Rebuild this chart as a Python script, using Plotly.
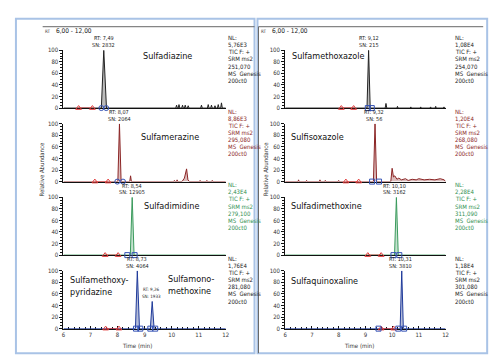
import plotly.graph_objects as go

W, H = 498, 356

# ---------------- data ----------------
compounds = ["Sulfadiazine", "Sulfamerazine", "Sulfadimidine", "Sulfamethoxy-<br>pyridazine",
             "Sulfamethoxazole", "Sulfisoxazole", "Sulfadimethoxine", "Sulfaquinoxaline"]
second_compound = "Sulfamono-<br>methoxine"

nl_values = ["5,76E3", "8,86E3", "2,43E4", "1,76E4", "1,08E4", "1,20E4", "2,28E4", "1,18E4"]
srm_mass = ["251,070", "295,080", "279,100", "281,080", "254,070", "268,080", "311,090", "301,080"]

peak_rt = [7.49, 8.07, 8.54, 8.73, 9.12, 9.32, 10.10, 10.31]
peak_sn = ["2832", "2064", "12905", "4064", "215", "56", "3162", "3810"]
peak2_rt = 9.26
peak2_sn = "1933"

# chromatogram traces (time in min, relative abundance %)
t_L1 = [6.0, 7.40, 7.49, 7.59, 10.15, 10.18, 10.21, 10.24, 10.27, 10.30, 10.37, 10.40, 10.43,
        10.47, 10.50, 10.53, 10.58, 10.61, 10.64, 11.07, 11.10, 11.13, 11.32, 11.35, 11.38,
        11.44, 11.47, 11.50, 11.57, 11.60, 11.63, 11.69, 11.72, 11.75, 11.81, 11.84, 11.87, 12.0]
a_L1 = [0, 0, 100, 0, 0, 5, 0, 0, 6, 0, 0, 5, 0,
        0, 5, 0, 0, 4, 0, 0, 5, 0, 0, 6, 0,
        0, 5, 0, 0, 4, 0, 0, 6, 0, 0, 9, 0, 0]

t_L2 = [6.0, 8.01, 8.07, 8.13, 8.45, 8.48, 8.51, 10.08, 10.10, 10.12, 10.18, 10.20, 10.22,
        10.38, 10.47, 10.55, 10.60, 10.66, 11.03, 11.05, 11.07, 11.28, 11.30, 11.32,
        11.48, 11.50, 11.52, 12.0]
a_L2 = [0, 0, 100, 0, 0, 10, 0, 0, 2, 0, 0, 3, 0,
        0, 6, 22, 3, 0, 0, 2, 0, 0, 2, 0,
        0, 2, 0, 0]

t_L3 = [6.0, 8.47, 8.54, 8.61, 12.0]
a_L3 = [0, 0, 100, 0, 0]

t_L4 = [6.0, 8.66, 8.73, 8.81, 9.21, 9.28, 9.35, 12.0]
a_L4 = [0, 0, 100, 0, 0, 47, 0, 0]

t_R1 = [6.0, 9.06, 9.12, 9.18, 9.74, 9.77, 9.80, 10.18, 10.20, 10.22, 10.68, 10.70, 10.72,
        11.05, 11.07, 11.09, 11.42, 11.44, 11.46, 11.61, 11.63, 11.65, 11.92, 11.94, 11.96, 12.0]
a_R1 = [0, 0, 100, 0, 0, 8, 0, 0, 3, 0, 0, 2, 0,
        0, 2, 0, 0, 2, 0, 0, 3, 0, 0, 2, 0, 0]

t_R2 = [6.0, 6.48, 6.50, 6.52, 6.78, 6.80, 6.82, 7.28, 7.30, 7.32, 7.48, 7.50, 7.52,
        7.98, 8.00, 8.02, 9.30, 9.36, 9.42, 9.95, 10.00, 10.05, 10.10, 10.18, 10.25,
        10.35, 10.50, 10.60, 10.75, 10.90, 11.00, 11.20, 11.40, 11.60, 11.80, 11.95, 12.0]
a_R2 = [0, 0, 3, 0, 0, 2, 0, 0, 3, 0, 0, 2, 0,
        0, 2, 0, 0, 100, 0, 0, 23, 8, 10, 4, 6,
        3, 5, 2, 4, 3, 5, 3, 4, 3, 5, 3, 0]

t_R3 = [6.0, 10.09, 10.16, 10.23, 12.0]
a_R3 = [0, 0, 100, 0, 0]

t_R4 = [6.0, 10.30, 10.36, 10.42, 12.0]
a_R4 = [0, 0, 100, 0, 0]

# integration markers (times)
tri_marks = [[6.56, 7.07], [7.16, 7.65], [7.54, 8.02], [7.56, 8.05],
             [8.10, 8.56], [8.27, 8.75], [9.09, 9.59], [9.59, 10.06]]
blue_marks = [[7.40, 7.58], [7.99, 8.20], [8.36, 8.63], [8.68, 8.84, 9.21, 9.39],
              [9.09, 9.24], [9.25, 9.51], [10.05, 10.27], [9.49, 10.23, 10.45]]
blue_symbol = ["circle-open", "circle-open", "square-open", "square-open",
               "square-open", "square-open", "square-open", "square-open"]

x_ticks = [6, 7, 8, 9, 10, 11, 12]
y_ticks = [0, 20, 40, 60, 80, 100]

traces_t = [t_L1, t_L2, t_L3, t_L4, t_R1, t_R2, t_R3, t_R4]
traces_a = [a_L1, a_L2, a_L3, a_L4, a_R1, a_R2, a_R3, a_R4]

# ---------------- styling ----------------
FONT = "Liberation Sans Narrow, DejaVu Sans Condensed, Arial Narrow, sans-serif"
row_colors = ["#222222", "#8b2525", "#3a9a5c", "#1f3a9a"]
fill_colors = ["rgba(120,120,120,0.5)", "rgba(139,37,37,0.3)", "rgba(58,154,92,0.3)",
               "rgba(70,90,160,0.4)"]
text_colors = ["#222222", "#8b2525", "#2f8f4f", "#222222"]

def px(x):
    return x / W

def py(y):
    return 1 - y / H

panel_x = [(54, 218), (278, 440)]
rows = [(39, 98), (114, 173), (189, 248), (264, 323)]

fig = go.Figure()
layout = dict(width=W, height=H, margin=dict(l=0, r=0, t=0, b=0),
              paper_bgcolor="white", plot_bgcolor="white", showlegend=False)
annotations = []
shapes = []

for p in range(2):
    for r in range(4):
        k = p * 4 + r
        n = k + 1
        xs = "x" if n == 1 else f"x{n}"
        ys = "y" if n == 1 else f"y{n}"
        col = row_colors[r]
        fig.add_trace(go.Scatter(x=traces_t[k], y=traces_a[k], mode="lines",
                                 line=dict(color=col, width=1), fill="tozeroy",
                                 fillcolor=fill_colors[r], xaxis=xs, yaxis=ys,
                                 hoverinfo="skip"))
        fig.add_trace(go.Scatter(x=tri_marks[k], y=[0 for _ in tri_marks[k]],
                                 mode="lines+markers", line=dict(color="#e23a3a", width=1),
                                 marker=dict(symbol="triangle-up-open", size=5, color="#e23a3a",
                                             line=dict(width=1)),
                                 cliponaxis=False, xaxis=xs, yaxis=ys, hoverinfo="skip"))
        fig.add_trace(go.Scatter(x=blue_marks[k], y=[0 for _ in blue_marks[k]],
                                 mode="markers",
                                 marker=dict(symbol=blue_symbol[k], size=5, color="#3553b5",
                                             line=dict(width=1)),
                                 cliponaxis=False, xaxis=xs, yaxis=ys, hoverinfo="skip"))
        x0, x1 = panel_x[p]
        top, bot = rows[r]
        last = (r == 3)
        xa = dict(domain=[px(x0), px(x1)], range=[6, 12], anchor=ys,
                  showgrid=False, zeroline=False, showline=True, linecolor="#111",
                  linewidth=1, layer="below traces", fixedrange=True,
                  tickvals=x_ticks if last else [], ticks="inside" if last else "",
                  ticklen=3, tickcolor="#111", showticklabels=last,
                  tickfont=dict(family=FONT, size=6, color="#333"))
        if last:
            xa["minor"] = dict(dtick=0.2, tick0=6, ticks="inside", ticklen=2, tickcolor="#111")
        ya = dict(domain=[py(bot), py(top)], range=[0, 100], anchor=xs,
                  showgrid=False, zeroline=False, showline=True, linecolor="#111",
                  linewidth=1, tickvals=y_ticks, ticks="outside", ticklen=3,
                  tickcolor="#111", fixedrange=True,
                  tickfont=dict(family=FONT, size=6, color="#333"),
                  minor=dict(dtick=5, tick0=0, ticks="outside", ticklen=2, tickcolor="#111"))
        layout["xaxis" if n == 1 else f"xaxis{n}"] = xa
        layout["yaxis" if n == 1 else f"yaxis{n}"] = ya

        # NL info block
        info = ["NL:", nl_values[k], "TIC F: +", "SRM ms2", srm_mass[k], "MS  Genesis", "200ct0"]
        nx = x1 if p == 0 else x1 + 7
        for i, line in enumerate(info):
            annotations.append(dict(x=px(nx), y=py(top - 13 + 7.3 * i), xref="paper", yref="paper",
                                    text=line, showarrow=False, xanchor="left", yanchor="middle",
                                    font=dict(family=FONT, size=6, color=text_colors[r])))
        # peak labels
        annotations.append(dict(x=peak_rt[k], y=py(top - 12), xref=xs, yref="paper",
                                text=f"RT: {peak_rt[k]:.2f}".replace(".", ","), showarrow=False,
                                xanchor="center", yanchor="middle",
                                font=dict(family=FONT, size=5.5, color="#222")))
        annotations.append(dict(x=peak_rt[k], y=py(top - 5), xref=xs, yref="paper",
                                text=f"SN: {peak_sn[k]}", showarrow=False,
                                xanchor="center", yanchor="middle",
                                font=dict(family=FONT, size=5.5, color="#222")))

# compound names
name_pos = [(159, 45, "center"), (162, 127, "center"), (163, 198, "center"), (59, 279, "left"),
            (283, 45, "left"), (282, 127, "left"), (282, 198, "left"), (282, 274, "left")]
for k, (x, y, anc) in enumerate(name_pos):
    annotations.append(dict(x=px(x), y=py(y), xref="paper", yref="paper", text=compounds[k],
                            showarrow=False, xanchor=anc, yanchor="middle", align="left",
                            font=dict(family=FONT, size=9, color="#111")))
annotations.append(dict(x=px(158), y=py(278), xref="paper", yref="paper", text=second_compound,
                        showarrow=False, xanchor="left", yanchor="middle", align="left",
                        font=dict(family=FONT, size=9, color="#111")))
annotations.append(dict(x=peak2_rt, y=py(283), xref="x4", yref="paper",
                        text=f"RT: {peak2_rt:.2f}".replace(".", ","), showarrow=False,
                        xanchor="center", yanchor="middle", font=dict(family=FONT, size=4.5, color="#222")))
annotations.append(dict(x=peak2_rt, y=py(290), xref="x4", yref="paper",
                        text=f"SN: {peak2_sn}", showarrow=False,
                        xanchor="center", yanchor="middle", font=dict(family=FONT, size=4.5, color="#222")))

# headers, axis titles
for hx in (33, 252):
    annotations.append(dict(x=px(hx), y=py(19.5), xref="paper", yref="paper", text="RT",
                            showarrow=False, xanchor="left", yanchor="middle",
                            font=dict(family=FONT, size=4.5, color="#333")))
    annotations.append(dict(x=px(hx + 11), y=py(19.5), xref="paper", yref="paper",
                            text="6,00 - 12,00", showarrow=False, xanchor="left", yanchor="middle",
                            font=dict(family=FONT, size=6.5, color="#222")))
for tx in (128, 353):
    annotations.append(dict(x=px(tx), y=py(340), xref="paper", yref="paper", text="Time (min)",
                            showarrow=False, xanchor="center", yanchor="middle",
                            font=dict(family=FONT, size=6, color="#333")))
for ax_x in (32, 258):
    annotations.append(dict(x=px(ax_x), y=py(160), xref="paper", yref="paper",
                            text="Relative Abundance", textangle=-90, showarrow=False,
                            xanchor="center", yanchor="middle",
                            font=dict(family=FONT, size=6, color="#333")))

# frames
frame_col = "#a9c3e6"
shapes.append(dict(type="rect", xref="paper", yref="paper", x0=px(6), x1=px(247), y0=py(348), y1=py(7),
                   line=dict(color=frame_col, width=2)))
shapes.append(dict(type="rect", xref="paper", yref="paper", x0=px(250), x1=px(482), y0=py(348), y1=py(7),
                   line=dict(color=frame_col, width=2)))
shapes.append(dict(type="line", xref="paper", yref="paper", x0=px(33), x1=px(247), y0=py(15), y1=py(15),
                   line=dict(color="#666", width=1)))
shapes.append(dict(type="line", xref="paper", yref="paper", x0=px(251), x1=px(478), y0=py(15), y1=py(15),
                   line=dict(color="#666", width=1)))
shapes.append(dict(type="line", xref="paper", yref="paper", x0=px(251), x1=px(251), y0=py(15), y1=py(348),
                   line=dict(color="#666", width=1)))

layout["annotations"] = annotations
layout["shapes"] = shapes
fig.update_layout(**layout)
fig.write_html("out.html")
